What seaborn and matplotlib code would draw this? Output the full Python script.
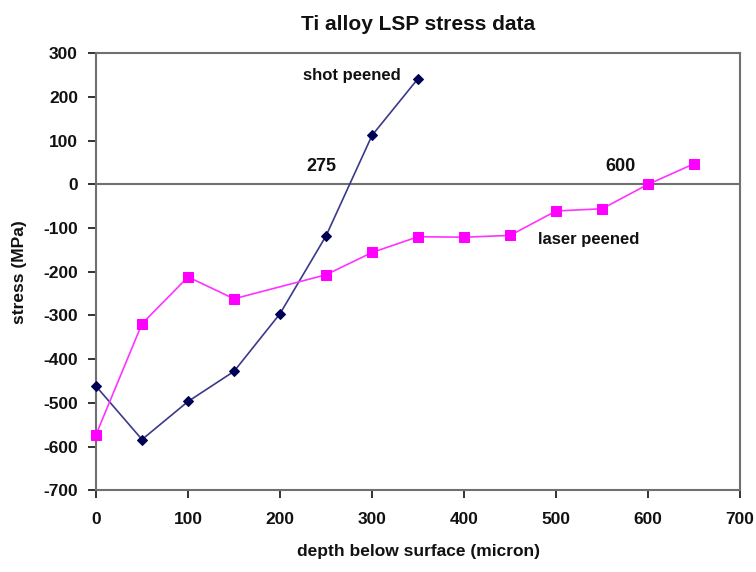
import numpy as np
import pandas as pd
import matplotlib
matplotlib.use("Agg")
import matplotlib.pyplot as plt
import seaborn as sns

# 데이터
shot_depth = [0, 50, 100, 150, 200, 250, 300, 350]
shot_stress = [-462, -584, -497, -428, -296, -118, 112, 242]

laser_depth = [0, 50, 100, 150, 250, 300, 350, 400, 450, 500, 550, 600, 650]
laser_stress = [-573, -319, -212, -262, -207, -156, -120, -121, -117, -61, -56, 0, 47]

x_ticks = [0, 100, 200, 300, 400, 500, 600, 700]
y_ticks = [300, 200, 100, 0, -100, -200, -300, -400, -500, -600, -700]

shot = pd.DataFrame({"depth": shot_depth, "stress": shot_stress})
laser = pd.DataFrame({"depth": laser_depth, "stress": laser_stress})

sns.set_style("white")
plt.rcParams['font.family'] = ['Liberation Sans Narrow', 'Liberation Sans', 'DejaVu Sans']
plt.rcParams['font.weight'] = 'bold'
plt.rcParams['axes.unicode_minus'] = False
plt.rcParams['text.color'] = '#111111'
plt.rcParams['axes.labelcolor'] = '#111111'
plt.rcParams['xtick.color'] = '#111111'
plt.rcParams['ytick.color'] = '#111111'

fig = plt.figure(figsize=(7.56, 5.72), dpi=100)
ax = fig.add_axes([0.127, 0.143, 0.852, 0.764])

sns.lineplot(data=shot, x="depth", y="stress", ax=ax, color="#3a3a8c", lw=1.2,
             marker="D", markersize=5, markerfacecolor="#000055", markeredgecolor="#000055")
sns.lineplot(data=laser, x="depth", y="stress", ax=ax, color="#ff33ff", lw=1.2,
             marker="s", markersize=7, markerfacecolor="#ff00ff", markeredgecolor="#ff00ff")
for ln in ax.lines:
    ln.set_clip_on(False)
    ln.set_zorder(3)

ax.axhline(0, color="#707070", lw=1.5, zorder=1)

ax.set_xlim(0, 700)
ax.set_ylim(-700, 300)
ax.set_xticks(x_ticks)
ax.set_yticks(y_ticks)
ax.tick_params(axis="both", direction="out", length=6, width=1.2, labelsize=12.5,
               left=True, bottom=True)
ax.tick_params(axis="y", pad=7)
ax.tick_params(axis="x", pad=10)
for t in ax.xaxis.get_ticklines() + ax.yaxis.get_ticklines():
    t.set_color("#707070")
for s in ax.spines.values():
    s.set_color("#707070")
    s.set_linewidth(1.5)

ax.set_xlabel("depth below surface (micron)", fontsize=12.5, fontweight="bold", labelpad=12)
ax.set_ylabel("stress (MPa)", fontsize=12.5, fontweight="bold", labelpad=12)
ax.set_title("Ti alloy LSP stress data", fontsize=15, fontweight="bold", pad=17)

# 주석
ax.text(278, 250, "shot peened", ha="center", va="center", fontsize=12, fontweight="bold")
ax.text(245, 40, "275", ha="center", va="center", fontsize=13, fontweight="bold")
ax.text(570, 40, "600", ha="center", va="center", fontsize=13, fontweight="bold")
ax.text(535, -126, "laser peened", ha="center", va="center", fontsize=12, fontweight="bold")

plt.savefig("out.png", dpi=100)
